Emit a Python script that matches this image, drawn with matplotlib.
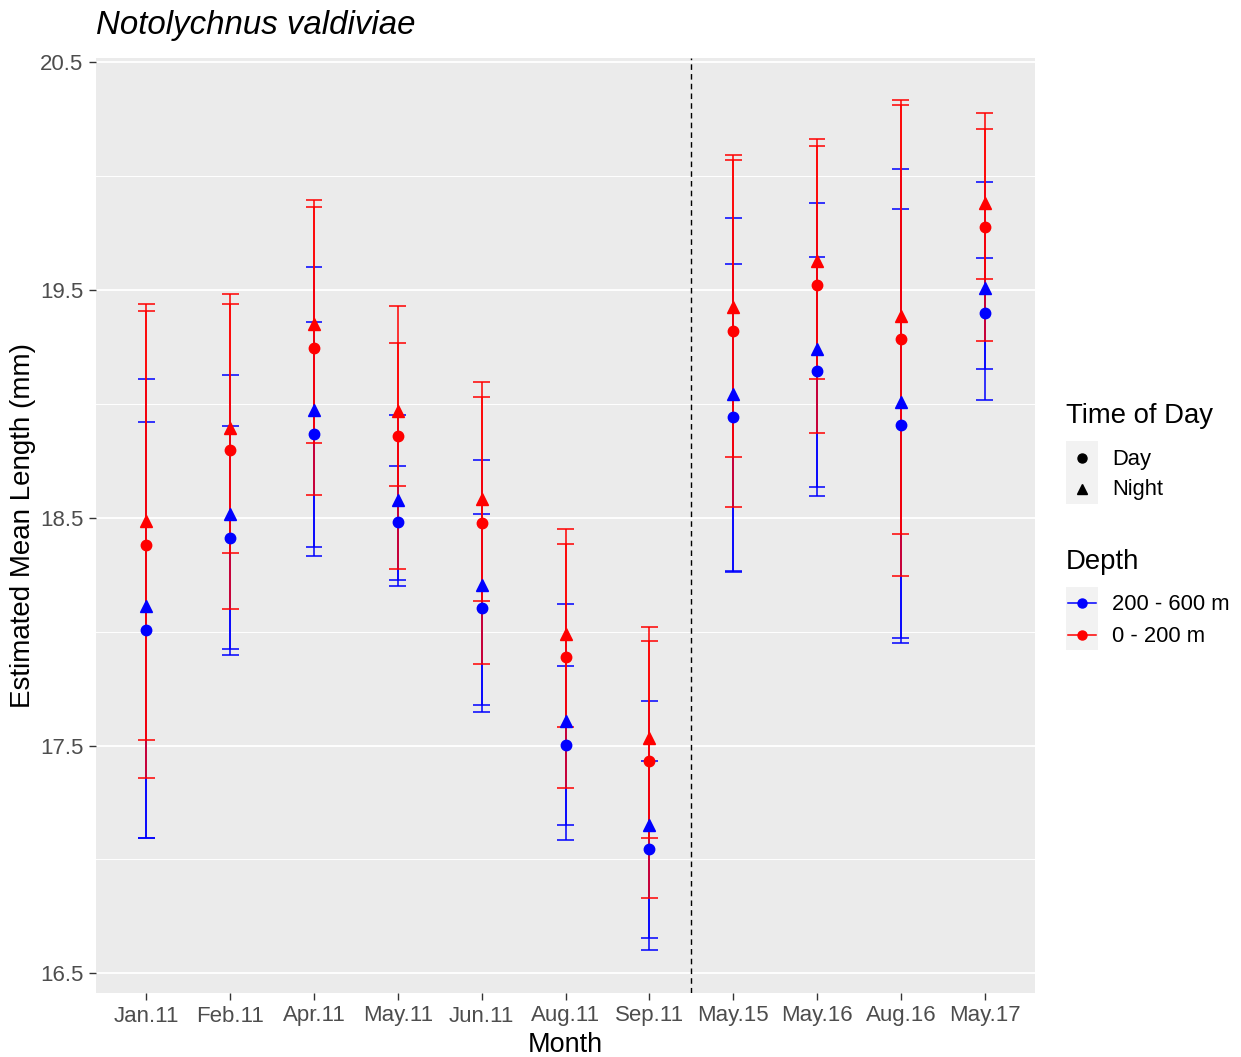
import matplotlib
matplotlib.use("Agg")
import matplotlib.pyplot as plt
from matplotlib.lines import Line2D
from matplotlib.patches import Rectangle
import numpy as np

plt.rcParams["font.family"] = ["Liberation Sans", "DejaVu Sans"]

months = ["Jan.11", "Feb.11", "Apr.11", "May.11", "Jun.11", "Aug.11", "Sep.11",
          "May.15", "May.16", "Aug.16", "May.17"]

# 200 - 600 m, day
deep_day_mean = [18.006, 18.413, 18.870, 18.480, 18.104, 17.503, 17.047, 18.943, 19.145, 18.906, 19.401]
deep_day_lo = [17.093, 17.923, 18.372, 18.227, 17.677, 17.153, 16.655, 18.265, 18.634, 17.971, 19.152]
deep_day_hi = [18.921, 18.903, 19.358, 18.726, 18.518, 17.848, 17.434, 19.614, 19.645, 19.855, 19.641]

# 200 - 600 m, night
deep_night_mean = [18.111, 18.518, 18.972, 18.580, 18.207, 17.610, 17.153, 19.042, 19.243, 19.010, 19.508]
deep_night_lo = [17.093, 17.898, 18.331, 18.202, 17.647, 17.086, 16.600, 18.261, 18.597, 17.952, 19.018]
deep_night_hi = [19.109, 19.127, 19.603, 18.951, 18.755, 18.121, 17.696, 19.815, 19.884, 20.032, 19.974]

# 0 - 200 m, day
shallow_day_mean = [18.382, 18.796, 19.247, 18.858, 18.479, 17.889, 17.431, 19.320, 19.521, 19.284, 19.778]
shallow_day_lo = [17.356, 18.098, 18.599, 18.275, 17.860, 17.313, 16.831, 18.547, 18.871, 18.244, 19.275]
shallow_day_hi = [19.408, 19.481, 19.894, 19.432, 19.096, 18.449, 18.019, 20.092, 20.162, 20.311, 20.280]

# 0 - 200 m, night
shallow_night_mean = [18.485, 18.894, 19.350, 18.968, 18.584, 17.990, 17.533, 19.426, 19.626, 19.388, 19.883]
shallow_night_lo = [17.523, 18.347, 18.829, 18.640, 18.135, 17.583, 17.093, 18.767, 19.109, 18.427, 19.550]
shallow_night_hi = [19.437, 19.437, 19.865, 19.268, 19.030, 18.384, 17.958, 20.073, 20.133, 20.335, 20.208]

groups = [
    (deep_day_mean, deep_day_lo, deep_day_hi, "blue", "o"),
    (deep_night_mean, deep_night_lo, deep_night_hi, "blue", "^"),
    (shallow_day_mean, shallow_day_lo, shallow_day_hi, "red", "o"),
    (shallow_night_mean, shallow_night_lo, shallow_night_hi, "red", "^"),
]

W, H = 1241, 1057
fig = plt.figure(figsize=(W / 100, H / 100), dpi=100)


def fx(x):
    return x / W


def fy(y):
    return 1 - y / H


ax = fig.add_axes([fx(96), fy(993), fx(1035) - fx(96), fy(57.5) - fy(993)])
ax.set_facecolor("#EBEBEB")
for s in ax.spines.values():
    s.set_visible(False)

x = np.arange(1, len(months) + 1)

# error bars first, points on top
for mean, lo, hi, col, mk in groups:
    lo = np.array(lo)
    hi = np.array(hi)
    ax.vlines(x, lo, hi, color=col, lw=1.1, zorder=3)
    ax.hlines(lo, x - 0.1, x + 0.1, color=col, lw=1.1, zorder=3)
    ax.hlines(hi, x - 0.1, x + 0.1, color=col, lw=1.1, zorder=3)
for mean, lo, hi, col, mk in groups:
    ax.plot(x, mean, linestyle="none", marker=mk, color=col,
            markersize=7.5 if mk == "o" else 8.5, zorder=4)

ax.axvline(7.5, color="black", ls=(0, (4, 3)), lw=1.0, zorder=2)

all_lo = min(min(g[1]) for g in groups)
all_hi = max(max(g[2]) for g in groups)
pad = 0.05 * (all_hi - all_lo)
ax.set_ylim(all_lo - pad, all_hi + pad)
ax.set_xlim(0.4, len(months) + 0.6)

ax.set_yticks([16.5, 17.5, 18.5, 19.5, 20.5])
ax.set_yticks([17.0, 18.0, 19.0, 20.0], minor=True)
ax.set_xticks(x)
ax.set_xticklabels(months)
ax.grid(which="major", axis="y", color="white", lw=1.3, zorder=0)
ax.grid(which="minor", axis="y", color="white", lw=0.7, zorder=0)
ax.set_axisbelow(True)
ax.tick_params(which="major", length=5, width=1.0, color="#333333",
               labelcolor="#4D4D4D", labelsize=16, pad=4)
ax.tick_params(which="minor", length=0)

ax.set_xlabel("Month", fontsize=19.5, labelpad=4)
ax.set_ylabel("Estimated Mean Length (mm)", fontsize=20, labelpad=3)
ax.set_title("Notolychnus valdiviae", fontsize=23.8, style="italic",
             loc="left", pad=17)

# legends
fig.text(fx(1066), fy(416), "Time of Day", fontsize=19.8, va="center", ha="left")
fig.add_artist(Rectangle((fx(1066), fy(504)), fx(32), fy(441) - fy(504),
                         transform=fig.transFigure, color="#F2F2F2", lw=0))
fig.add_artist(Line2D([fx(1082)], [fy(458)], marker="o", color="black",
                      markersize=6.5, transform=fig.transFigure))
fig.add_artist(Line2D([fx(1082)], [fy(489)], marker="^", color="black",
                      markersize=7.5, transform=fig.transFigure))
fig.text(fx(1112), fy(459), "Day", fontsize=15.8, va="center", ha="left")
fig.text(fx(1112), fy(490), "Night", fontsize=15.8, va="center", ha="left")

fig.text(fx(1066), fy(562), "Depth", fontsize=19.8, va="center", ha="left")
fig.add_artist(Rectangle((fx(1066), fy(650)), fx(32), fy(587) - fy(650),
                         transform=fig.transFigure, color="#F2F2F2", lw=0))
for yy, col in [(603, "blue"), (635, "red")]:
    fig.add_artist(Line2D([fx(1068), fx(1096)], [fy(yy), fy(yy)], color=col,
                          lw=1.1, transform=fig.transFigure))
    fig.add_artist(Line2D([fx(1082)], [fy(yy)], marker="o", color=col,
                          markersize=6.5, transform=fig.transFigure))
fig.text(fx(1112), fy(605), "200 - 600 m", fontsize=15.8, va="center", ha="left")
fig.text(fx(1112), fy(637), "0 - 200 m", fontsize=15.8, va="center", ha="left")

fig.savefig("out.png", dpi=100, facecolor="white")
